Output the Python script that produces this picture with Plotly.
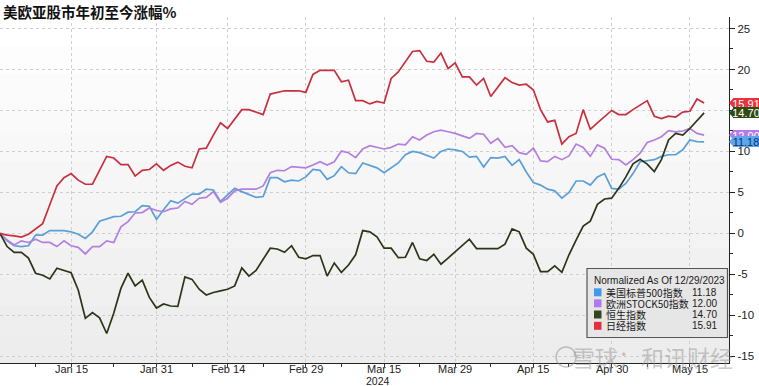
import pandas as pd
import plotly.graph_objects as go

# ---- data (normalized % change since 12/29/2023), one value per weekday from 2024-01-01 ----
dates = pd.bdate_range("2024-01-01", periods=100)

spx = [0, -0.9, -1.5, -1.6, -1.5, -0.2, -0.2, 0.35, 0.35, 0.35,
       0.2, -0.1, -0.6, 0.2, 1.5, 1.8, 2.05, 2.1, 2.6, 2.65,
       3.4, 3.3, 1.7, 2.9, 4.0, 3.7, 4.2, 4.8, 4.8, 5.4,
       5.3, 3.9, 4.7, 5.5, 5.1, 4.7, 4.4, 4.5, 6.8, 6.8,
       6.3, 6.5, 6.4, 6.9, 7.8, 7.7, 6.6, 7.05, 8.15, 7.4,
       7.3, 8.6, 8.3, 8.0, 7.4, 8.0, 8.6, 9.6, 10.0, 9.85,
       9.5, 9.2, 10.0, 10.3, 10.2, 10.0, 9.3, 9.4, 8.1, 9.25,
       9.2, 9.4, 8.3, 9.0, 7.5, 6.2, 5.9, 5.4, 5.2, 4.3,
       5.0, 6.4, 6.4, 5.9, 6.9, 7.3, 5.5, 5.4, 6.1, 7.3,
       8.75, 8.9, 9.0, 9.4, 9.6, 9.6, 10.2, 11.4, 11.2, 11.18]

sx5e = [0, -0.8, -1.4, -0.9, -1.1, -0.7, -1.1, -1.1, -1.6, -0.9,
        -1.5, -1.7, -2.5, -1.6, -1.6, -0.9, -1.1, 0.8, 1.45, 2.5,
        2.55, 3.1, 2.8, 2.65, 3.0, 3.1, 3.9, 3.55, 4.3, 4.4,
        5.1, 3.8, 4.3, 5.2, 5.4, 5.4, 5.4, 5.8, 7.4, 7.7,
        7.65, 8.15, 8.1, 8.0, 8.35, 8.75, 8.35, 8.75, 10.05, 9.85,
        9.25, 10.3, 10.7, 10.5, 10.3, 10.5, 10.9, 10.8, 11.8, 11.4,
        12.0, 12.4, 12.6, 12.4, 12.2, 11.9, 11.6, 12.2, 12.1, 11.0,
        11.6, 10.5, 10.7, 9.85, 9.65, 10.4, 8.85, 8.75, 9.4, 9.0,
        9.45, 10.9, 10.5, 9.4, 10.8, 10.4, 9.05, 9.0, 8.35, 9.0,
        9.8, 11.1, 11.4, 11.8, 12.55, 12.4, 12.5, 12.8, 12.2, 12.0]

hsi = [0, -1.6, -2.3, -2.3, -3.0, -4.85, -5.1, -5.55, -4.25, -4.5,
       -4.8, -6.9, -10.35, -9.65, -10.3, -12.2, -9.7, -6.7, -4.85, -6.4,
       -5.7, -7.8, -9.1, -8.6, -8.85, -8.9, -5.3, -5.6, -6.8, -7.5,
       -7.2, -7.0, -6.8, -6.4, -4.2, -5.2, -4.5, -3.15, -1.8, -1.9,
       -2.3, -1.5, -2.9, -3.1, -2.7, -2.7, -5.2, -3.6, -4.75, -3.85,
       -2.6, 0.35, 0.2, -0.4, -1.8, -1.8, -2.95, -2.9, -1.1, -3.1,
       -3.3, -2.55, -3.75, -3.0, -2.2, -1.4, -0.7, -1.85, -1.85, -1.85,
       -1.85, -1.3, 0.55, 0.2, -1.8, -2.55, -4.65, -4.65, -3.95, -4.75,
       -2.6, -0.8, 0.9, 1.5, 3.55, 4.2, 4.3, 5.5, 6.9, 8.5,
       9.05, 8.45, 7.55, 9.0, 11.4, 12.2, 12.0, 12.8, 13.8, 14.7]

nky = [0, -0.2, -0.3, -0.45, -0.1, 0.5, 1.2, 3.5, 5.8, 6.8,
       7.3, 6.5, 6.0, 6.0, 7.8, 9.4, 9.2, 8.4, 8.4, 7.0,
       7.7, 7.8, 8.5, 7.7, 8.3, 8.7, 8.2, 8.0, 10.3, 10.4,
       12.0, 13.5, 12.8, 14.0, 15.1, 15.1, 14.8, 14.5, 17.0, 17.2,
       17.4, 17.4, 17.4, 17.2, 19.4, 19.9, 19.9, 19.9, 18.5, 18.7,
       16.2, 16.2, 15.8, 16.1, 15.9, 18.9, 19.7, 21.0, 22.2, 22.3,
       21.0, 20.9, 22.0, 20.1, 20.8, 19.1, 19.1, 18.1, 18.9, 16.7,
       17.8, 19.0, 18.4, 18.1, 18.2, 17.5, 15.1, 13.6, 13.8, 10.9,
       11.8, 12.2, 15.1, 12.7, 13.5, 14.3, 15.0, 14.5, 14.5, 15.1,
       15.7, 16.2, 14.3, 14.0, 14.3, 14.2, 14.8, 14.9, 16.4, 15.91]

names = ["美国标普500指数", "欧洲STOCK50指数", "恒生指数", "日经指数"]
last_vals = [11.18, 12.00, 14.70, 15.91]
series = [spx, sx5e, hsi, nky]

tick_dates = ["2024-01-15", "2024-01-31", "2024-02-14", "2024-02-29", "2024-03-15",
              "2024-03-29", "2024-04-15", "2024-04-30", "2024-05-15"]
tick_text = ["Jan 15", "Jan 31", "Feb 14", "Feb 29", "Mar 15", "Mar 29", "Apr 15", "Apr 30", "May 15"]
minor_dates = ["2024-01-08", "2024-01-23", "2024-02-07", "2024-02-21", "2024-03-07",
               "2024-03-22", "2024-04-05", "2024-04-22", "2024-05-07"]

# ---- styles ----
line_colors = ["#5a9fd8", "#b47fe0", "#2b3518", "#c8303f"]
swatch_colors = ["#3f9ae8", "#b377ee", "#33471a", "#e4303c"]
tag_bg = ["#5aa8ee", "#b57be8", "#2f4a12", "#e8333f"]
tag_fg = ["#16306a", "#ffffff", "#ffffff", "#ffffff"]
num_font = "Liberation Sans"

fig = go.Figure()
for s, n, c in zip(series, names, line_colors):
    fig.add_trace(go.Scatter(x=dates, y=s, name=n, mode="lines",
                             line=dict(color=c, width=1.7), showlegend=False))

W, H = 759, 386
ml, mr, mt, mb = 0, 30, 17, 23
pw = W - ml - mr
ph = H - mt - mb

def px_x(px):
    return (px - ml) / pw

def px_y(py):
    return 1 - (py - mt) / ph

shapes = []
# background gradient bands
nb = 12
for i in range(nb):
    g = int(255 - (i / (nb - 1)) * 18)
    shapes.append(dict(type="rect", xref="paper", yref="paper", layer="below",
                       x0=0, x1=1, y0=1 - (i + 1) / nb, y1=1 - i / nb,
                       fillcolor=f"rgb({g},{g},{g})", line=dict(width=0)))

annotations = []
annotations.append(dict(text="<b>美欧亚股市年初至今涨幅%</b>", xref="paper", yref="paper",
                        x=px_x(1), y=px_y(11.5), xanchor="left", yanchor="middle",
                        showarrow=False, font=dict(size=14.5, color="#111",
                                                   family="Noto Sans CJK SC")))
annotations.append(dict(text="2024", xref="x", yref="paper", x="2024-03-15", y=px_y(381),
                        yanchor="middle", xshift=-6, showarrow=False,
                        font=dict(size=10.5, color="#222", family=num_font)))
# x tick labels placed close to the axis line (as in the reference)
for d, t in zip(tick_dates, tick_text):
    annotations.append(dict(text=t, xref="x", yref="paper", x=d, y=px_y(369.5),
                            yanchor="middle", xanchor="center", showarrow=False,
                            font=dict(size=11, color="#222", family=num_font)))

# right-side value tags
order = [3, 2, 1, 0]
for i in order:
    v = last_vals[i]
    dy = 0.68
    shapes.append(dict(type="path", xref="paper", yref="y",
                       path=f"M 1,{v} L {1 + 5 / pw},{v + dy} L {1 + 5 / pw},{v - dy} Z",
                       fillcolor=tag_bg[i], line=dict(width=0), layer="above"))
    annotations.append(dict(text=f"{v:.2f}", xref="paper", yref="y", x=1, y=v,
                            xanchor="left", yanchor="middle", xshift=4, showarrow=False,
                            bgcolor=tag_bg[i], borderpad=0, width=26, height=11,
                            borderwidth=0,
                            font=dict(size=11, color=tag_fg[i], family=num_font)))

# legend box (manual)
shapes.append(dict(type="rect", xref="paper", yref="paper",
                   x0=px_x(587), x1=px_x(727.5), y0=px_y(337.5), y1=px_y(268.5),
                   fillcolor="#e6e6e6", line=dict(color="#555", width=1.2), layer="above"))
annotations.append(dict(text="Normalized As Of 12/29/2023", xref="paper", yref="paper",
                        x=px_x(592), y=px_y(280.5), xanchor="left", yanchor="middle",
                        showarrow=False, font=dict(size=10, color="#1a1a1a", family=num_font)))
rows = [292.3, 303.3, 314.5, 325.8]
for i in range(4):
    yy = rows[i]
    shapes.append(dict(type="rect", xref="paper", yref="paper",
                       x0=px_x(594), x1=px_x(601.5), y0=px_y(yy + 4), y1=px_y(yy - 4),
                       fillcolor=swatch_colors[i], line=dict(width=0), layer="above"))
    annotations.append(dict(text=names[i], xref="paper", yref="paper",
                            x=px_x(604), y=px_y(yy), xanchor="left", yanchor="middle",
                            showarrow=False, font=dict(size=10, color="#1a1a1a",
                                                       family="Noto Sans CJK SC")))
    annotations.append(dict(text=f"{last_vals[i]:.2f}", xref="paper", yref="paper",
                            x=px_x(719), y=px_y(yy), xanchor="right", yanchor="middle",
                            showarrow=False, font=dict(size=10, color="#1a1a1a", family=num_font)))

# watermark
annotations.append(dict(text="雪球：和讯财经", xref="paper", yref="paper",
                        x=px_x(652), y=px_y(357), xanchor="center", yanchor="middle",
                        showarrow=False, font=dict(size=23, color="rgba(150,150,150,0.5)",
                                                   family="Noto Sans CJK SC")))
shapes.append(dict(type="circle", xref="paper", yref="paper",
                   x0=px_x(556), x1=px_x(576), y0=px_y(367), y1=px_y(347),
                   line=dict(color="rgba(150,150,150,0.55)", width=1.5), layer="above"))

fig.update_layout(
    width=W, height=H,
    margin=dict(l=ml, r=mr, t=mt, b=mb, autoexpand=False),
    paper_bgcolor="white", plot_bgcolor="white",
    showlegend=False,
    shapes=shapes, annotations=annotations,
    font=dict(family="Liberation Sans", size=11, color="#222"),
    xaxis=dict(
        type="date",
        range=["2024-01-01", "2024-05-22 12:00"],
        rangebreaks=[dict(bounds=["sat", "mon"])],
        tickmode="array", tickvals=tick_dates, ticktext=tick_text,
        showticklabels=False,
        ticks="outside", ticklen=3, tickcolor="#333", tickwidth=1,
        showline=True, linecolor="#222", linewidth=1.3,
        showgrid=True, gridcolor="#cfcfcf", griddash="dot", gridwidth=1,
        minor=dict(tickmode="array", tickvals=minor_dates, ticks="outside", ticklen=3,
                   tickcolor="#333", showgrid=False),
        zeroline=False,
    ),
    yaxis=dict(
        side="right",
        range=[-15.8, 26.4],
        tickmode="array", tickvals=[-15, -10, -5, 0, 5, 10, 15, 20, 25],
        ticktext=["-15", "-10", "-5", "0", "5", "10", "15", "20", "25"],
        ticks="outside", ticklen=5, tickcolor="#222", tickwidth=1,
        showline=True, linecolor="#222", linewidth=1.3,
        showgrid=True, gridcolor="#cfcfcf", griddash="dot", gridwidth=1,
        zeroline=False,
        tickfont=dict(size=11.5, color="#222", family=num_font),
        minor=dict(tickmode="array", tickvals=[-12.5, -7.5, -2.5, 2.5, 7.5, 12.5, 17.5, 22.5],
                   ticks="outside", ticklen=3, tickcolor="#222", showgrid=False),
    ),
)

fig.write_html("out.html", config={"displayModeBar": False},
               post_script="document.body.style.margin='0';document.body.style.overflow='hidden';")
